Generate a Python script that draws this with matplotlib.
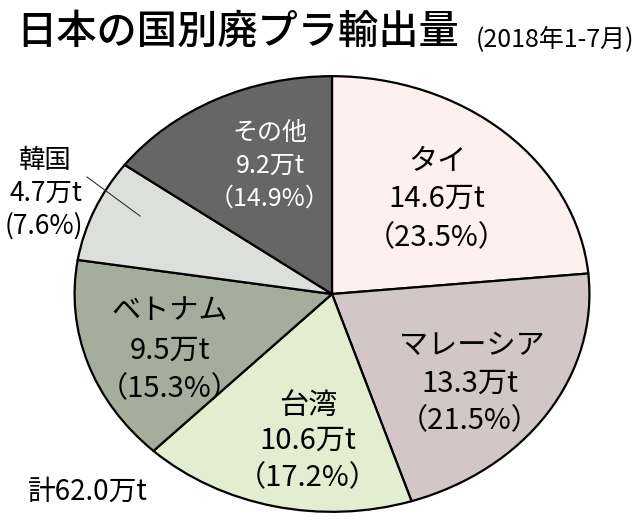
import matplotlib
matplotlib.use('Agg')
import matplotlib.pyplot as plt

plt.rcParams['font.family'] = ['Noto Sans CJK JP', 'DejaVu Sans']

countries = ['タイ', 'マレーシア', '台湾', 'ベトナム', '韓国', 'その他']
amounts = ['14.6万t', '13.3万t', '10.6万t', '9.5万t', '4.7万t', '9.2万t']
shares = [23.5, 21.5, 17.2, 15.3, 7.6, 14.9]
colors = ['#fdf0ee', '#d3c6c6', '#e3edd0', '#a5ae9d', '#dde0da', '#666666']
total_label = '計62.0万t'

W, H = 640, 523
fig = plt.figure(figsize=(W / 100, H / 100), dpi=100)

# pie is stretched into an ellipse: axes box = ellipse bounding box
left, top, right, bottom = 72, 74, 592, 514
ax = fig.add_axes([left / W, 1 - bottom / H, (right - left) / W, (bottom - top) / H])
ax.pie(shares, colors=colors, startangle=90, counterclock=False,
       wedgeprops=dict(edgecolor='black', linewidth=1.6))
ax.set_aspect('auto')
ax.set_xlim(-1.01, 1.01)
ax.set_ylim(-1.01, 1.01)
ax.axis('off')


def px(x, y):
    return x / W, 1 - y / H


# label centres in pixel coords (name, amount, percent)
label_pos = {
    'タイ': ((437, 162), (437, 199), (437, 238), 21, 'black'),
    'マレーシア': ((472, 346), (470, 384), (470, 421), 21, 'black'),
    '台湾': ((308, 406), (308, 441), (308, 478), 21, 'black'),
    'ベトナム': ((170, 311), (170, 351), (170, 389), 21, 'black'),
    'その他': ((270, 133), (270, 166), (270, 199), 18, 'white'),
}
for name, amt, sh in zip(countries, amounts, shares):
    if name not in label_pos:
        continue
    p1, p2, p3, fs, col = label_pos[name]
    fig.text(*px(*p1), name, ha='center', va='center', fontsize=fs, color=col)
    fig.text(*px(*p2), amt, ha='center', va='center', fontsize=fs, color=col)
    fig.text(*px(*p3), '（%.1f%%）' % sh, ha='center', va='center', fontsize=fs, color=col)

# 韓国 label outside with leader line
i = countries.index('韓国')
fig.text(*px(45, 160), countries[i], ha='center', va='center', fontsize=19)
fig.text(*px(46, 193), amounts[i], ha='center', va='center', fontsize=19)
fig.text(*px(5, 226), '(%.1f%%)' % shares[i], ha='left', va='center', fontsize=19)
fig.add_artist(plt.Line2D([87 / W, 140 / W], [1 - 177 / H, 1 - 216 / H],
                          color='#333333', linewidth=0.8))

fig.text(*px(28, 492), total_label, ha='left', va='center', fontsize=20)

fig.text(*px(16, 32), '日本の国別廃プラ輸出量', ha='left', va='center',
         fontsize=29, fontweight='medium')
fig.text(*px(634, 40), '(2018年1-7月)', ha='right', va='center', fontsize=18)

fig.savefig('out.png', dpi=100)
